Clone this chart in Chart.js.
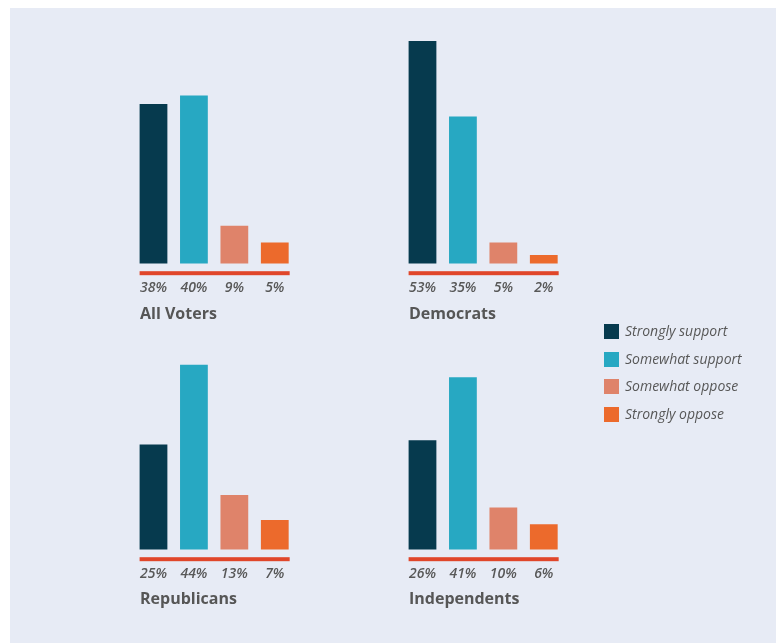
<!DOCTYPE html>
<html><head><meta charset="utf-8">
<script src="https://cdn.jsdelivr.net/npm/chart.js@4"></script>
<style>
html,body{margin:0;padding:0;background:#ffffff;width:776px;height:643px;overflow:hidden;position:relative}
#bg{position:absolute;left:10px;top:8px;width:766px;height:635px;background:#e7ebf5}
canvas{position:absolute}
.ttl{position:absolute;font-family:"Open Sans",sans-serif;font-weight:700;font-size:16px;color:#565656;line-height:20px;white-space:nowrap}
#legend{position:absolute;left:604px;top:324px;font-family:"Open Sans",sans-serif;font-style:italic;font-size:14px;color:#575757}
.li{position:relative;height:27.7px;white-space:nowrap}
.sw{position:absolute;left:0;top:0;width:15px;height:15px}
.lt{position:absolute;left:21px;top:-3px;line-height:20px}
</style>
</head><body>
<div id="bg"></div>
<canvas id="c0" width="163" height="276" style="left:132px;top:28px"></canvas>
<canvas id="c1" width="163" height="276" style="left:401px;top:28px"></canvas>
<canvas id="c2" width="163" height="276" style="left:132px;top:314px"></canvas>
<canvas id="c3" width="163" height="276" style="left:401px;top:314px"></canvas>
<div class="ttl" style="left:140px;top:303px">All Voters</div>
<div class="ttl" style="left:409px;top:303px">Democrats</div>
<div class="ttl" style="left:140px;top:588px">Republicans</div>
<div class="ttl" style="left:409px;top:588px">Independents</div>
<div id="legend"></div>
<script>
// ---- data ----
const categories = ['Strongly support', 'Somewhat support', 'Somewhat oppose', 'Strongly oppose'];
const groups = ['All Voters', 'Democrats', 'Republicans', 'Independents'];
const allVoters = [38, 40, 9, 5];
const democrats = [53, 35, 5, 2];
const republicans = [25, 44, 13, 7];
const independents = [26, 41, 10, 6];
const colors = ['#063a4e', '#27a8c2', '#df836a', '#ec6a2c'];

const seriesByGroup = [allVoters, democrats, republicans, independents];

const baseLinePlugin = {
  id: 'baseLine',
  afterDatasetsDraw(chart, args, opts) {
    const meta = chart.getDatasetMeta(0);
    const first = meta.data[0], last = meta.data[meta.data.length - 1];
    const x1 = first.x - first.width / 2, x2 = last.x + last.width / 2;
    const ctx = chart.ctx;
    ctx.save();
    ctx.fillStyle = opts.color;
    ctx.fillRect(x1, chart.chartArea.bottom, x2 - x1 + 1, opts.width);
    ctx.restore();
  }
};

seriesByGroup.forEach((vals, i) => {
  new Chart(document.getElementById('c' + i), {
    type: 'bar',
    data: {
      labels: vals.map(v => v + '%'),
      datasets: [{
        label: groups[i],
        data: vals,
        backgroundColor: colors,
        borderWidth: 0,
        barPercentage: 0.687,
        categoryPercentage: 1
      }]
    },
    plugins: [baseLinePlugin],
    options: {
      responsive: false,
      animation: false,
      events: [],
      layout: { padding: 0 },
      plugins: {
        legend: { display: false },
        tooltip: { enabled: false },
        title: { display: false },
        baseLine: { color: '#e0462a', width: 4 }
      },
      scales: {
        y: { display: false, min: -1.85, max: 56.1 },
        x: {
          grid: { display: false, drawTicks: false, tickLength: 0 },
          border: { display: false },
          ticks: {
            padding: 8,
            color: '#585858',
            font: { family: 'Open Sans', size: 14, style: 'italic', weight: '600', lineHeight: 1.2 }
          }
        }
      }
    }
  });
});

const legend = document.getElementById('legend');
categories.forEach((c, i) => {
  const row = document.createElement('div');
  row.className = 'li';
  row.innerHTML = '<span class="sw" style="background:' + colors[i] + '"></span><span class="lt">' + c + '</span>';
  legend.appendChild(row);
});
</script>
</body></html>
